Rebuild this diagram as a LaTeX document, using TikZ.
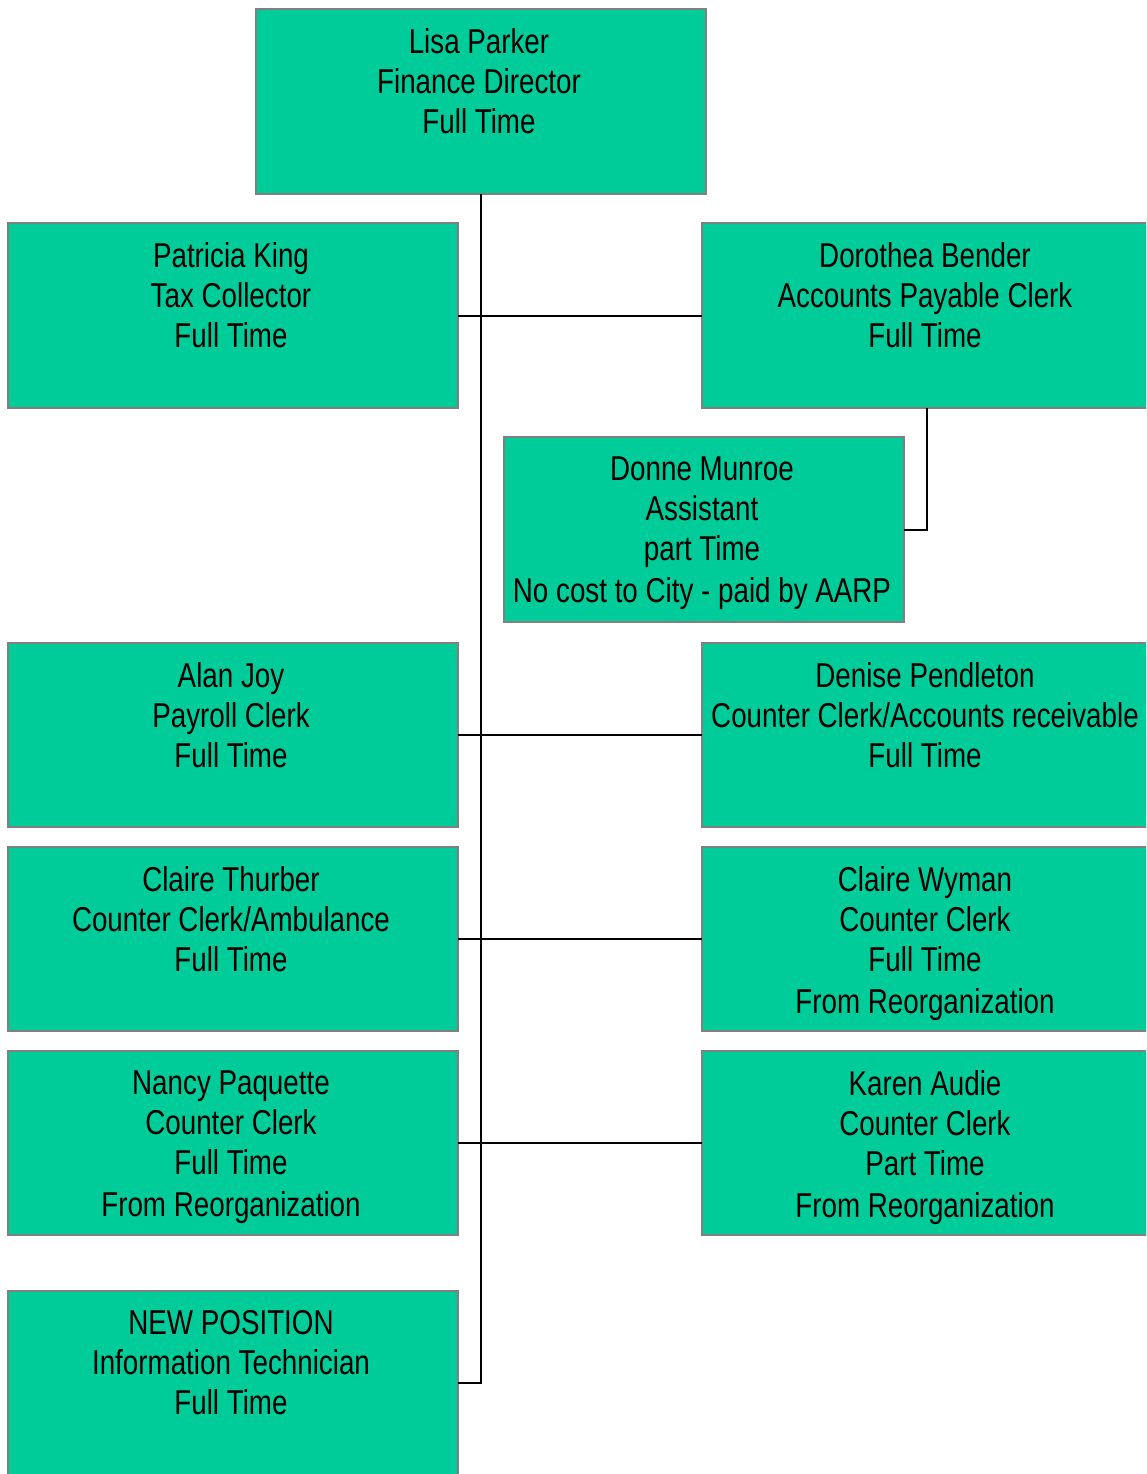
\documentclass[tikz,border=0pt]{standalone}
\usepackage{fontspec}
\setmainfont{Liberation Sans}[FakeStretch=0.805]
\definecolor{boxgreen}{HTML}{00CC99}
\definecolor{boxgray}{HTML}{808080}
\newcommand\orgcontent[3]{\begin{minipage}[t][#2pt][t]{#1pt}\centering\advance\rightskip by 4pt\vspace*{19.5pt}#3\end{minipage}}
\tikzset{
  orgbox/.style={draw=boxgray, fill=boxgreen, line width=2pt, inner sep=0pt, outer sep=0pt,
    anchor=north west, font=\fontsize{34.5}{40}\selectfont, text=black},
  link/.style={draw=black, line width=2pt}
}
\begin{document}
\begin{tikzpicture}[x=1pt,y=-1pt]
\clip (0,0) rectangle (1146,1474);
\fill[white] (0,0) rectangle (1146,1474);
\node[orgbox] (lisa) at (256,9) {\orgcontent{450}{185}{Lisa Parker\\Finance Director\\Full Time}};
\node[orgbox] (patricia) at (8,223) {\orgcontent{450}{185}{Patricia King\\Tax Collector\\Full Time}};
\node[orgbox] (dorothea) at (702,223) {\orgcontent{450}{185}{Dorothea Bender\\Accounts Payable Clerk\\Full Time}};
\node[orgbox] (donne) at (504,437) {\orgcontent{400}{185}{Donne Munroe\\Assistant\\part Time\\[2pt]No cost to City - paid by AARP}};
\node[orgbox] (alan) at (8,643) {\orgcontent{450}{184}{Alan Joy\\Payroll Clerk\\Full Time}};
\node[orgbox] (denise) at (702,643) {\orgcontent{450}{184}{Denise Pendleton\\Counter Clerk/Accounts receivable\\Full Time}};
\node[orgbox] (thurber) at (8,847) {\orgcontent{450}{184}{Claire Thurber\\Counter Clerk/Ambulance\\Full Time}};
\node[orgbox] (wyman) at (702,847) {\orgcontent{450}{184}{Claire Wyman\\Counter Clerk\\Full Time\\[2pt]From Reorganization}};
\node[orgbox] (nancy) at (8,1051) {\orgcontent{450}{184}{Nancy Paquette\\Counter Clerk\\Full Time\\[2pt]From Reorganization}};
\node[orgbox] (karen) at (702,1051) {\orgcontent{450}{184}{Karen Audie\\Counter Clerk\\Part Time\\[2pt]From Reorganization}};
\node[orgbox] (newpos) at (8,1291) {\orgcontent{450}{184}{NEW POSITION\\Information Technician\\Full Time}};
\draw[link] (lisa.south) |- (newpos.east);
\draw[link] (patricia.east) -- (dorothea.west);
\draw[link] (alan.east) -- (denise.west);
\draw[link] (thurber.east) -- (wyman.west);
\draw[link] (nancy.east) -- (karen.west);
\draw[link] (dorothea.south) |- (donne.east);
\end{tikzpicture}
\end{document}
